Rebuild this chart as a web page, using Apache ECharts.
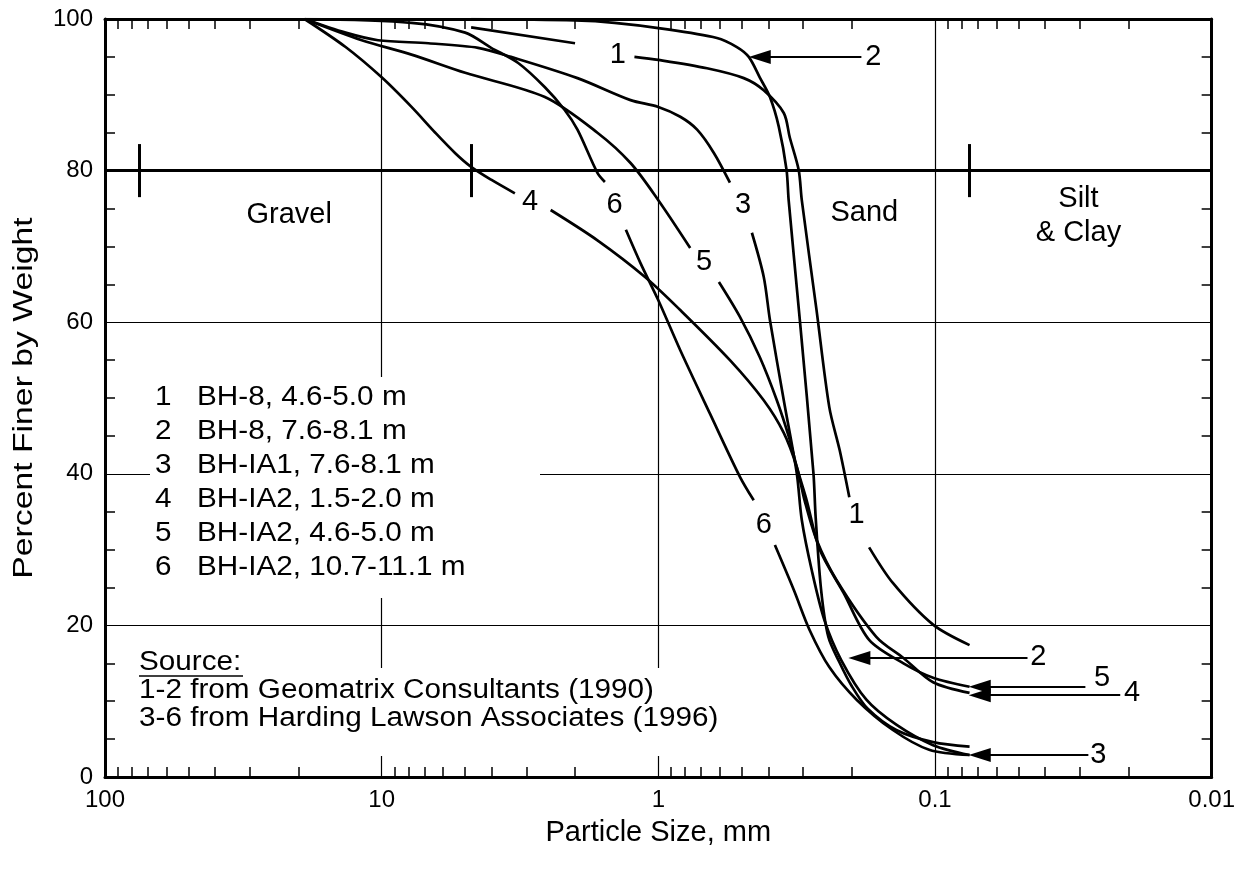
<!DOCTYPE html>
<html>
<head>
<meta charset="utf-8">
<title>Particle size distribution</title>
<script src="https://cdn.jsdelivr.net/npm/echarts@6/dist/echarts.min.js"></script>
<style>
html,body{margin:0;padding:0;background:#fff;}
#main{width:1238px;height:872px;}
</style>
</head>
<body>
<div id="main"></div>
<script>
// particle size (mm) vs percent finer. null = gap left for a curve label
var curve1 = [[4.75,98.9],[2.0,96.8],null,[1.22,95.0],[1.0,94.6],[0.667,93.5],[0.491,92.2],[0.416,90.6],[0.352,87.6],[0.335,84.4],[0.311,80.1],[0.303,76.1],[0.268,61.6],[0.241,48.8],[0.221,43.1],[0.204,36.9],null,[0.173,30.3],[0.142,25.6],[0.1016,20.1],[0.075,17.4]];
var curve2 = [[4.75,100],[2.0,99.8],[1.44,99.5],[1.0,98.8],[0.614,97.5],[0.52,96.3],[0.471,95.0],[0.43,92.3],[0.395,89.7],[0.367,85.8],[0.344,80.1],[0.338,76.1],[0.308,60.3],[0.275,40.1],[0.27,34.3],[0.258,24.7],[0.243,18.5],[0.222,15.2],[0.2,12.0],[0.175,9.0],[0.138,6.2],[0.1016,4.6],[0.075,4.0]];
var curve3 = [[19,100],[13.5,98.2],[10.3,97.2],[6.77,96.8],[4.48,96.2],[3.41,95.0],[1.96,92.2],[1.26,89.3],[1.0,88.4],[0.833,87.1],[0.724,85.4],[0.629,82.3],[0.551,78.4],null,[0.459,71.8],[0.416,66.0],[0.395,60.3],[0.352,49.7],[0.316,40.1],[0.303,33.9],[0.279,27.3],[0.251,20.7],[0.218,15.4],[0.177,10.2],[0.138,6.9],[0.1016,4.2],[0.075,2.9]];
var curve4 = [[19,100],[13.5,96.3],[10,92.3],[7.8,88.4],[6.4,85.0],[5.42,82.3],[4.75,80.5],[4.02,78.8],[3.30,77.0],null,[2.45,74.8],[1.66,70.8],[1.12,66.0],[0.833,61.6],[0.551,55.0],[0.416,49.7],[0.352,45.4],[0.316,40.9],[0.296,36.5],[0.268,31.3],[0.227,26.0],[0.163,18.5],[0.130,15.7],[0.1016,12.5],[0.075,11.1]];
var curve5 = [[19,100],[11.8,97.2],[7.8,95.3],[4.99,92.9],[2.57,89.7],[1.66,85.0],[1.26,81.0],[1.0,76.1],[0.767,69.8],null,[0.604,65.3],[0.507,60.7],[0.43,55.4],[0.373,49.7],[0.335,44.5],[0.316,40.9],[0.291,36.5],[0.261,30.0],[0.214,24.3],[0.173,18.1],[0.130,15.0],[0.1016,13.1],[0.075,11.9]];
var curve6 = [[19,100],[7.8,99.5],[4.99,98.2],[4.02,96.2],[3.21,94.2],[2.57,91.0],[2.18,88.0],[1.96,85.4],[1.66,79.7],[1.56,78.5],null,[1.31,72.2],[1.16,67.8],[1.0,62.9],[0.833,56.3],[0.65,47.9],[0.507,39.6],[0.452,36.5],null,[0.379,30.6],[0.324,24.7],[0.284,19.4],[0.241,14.5],[0.192,10.2],[0.142,6.2],[0.105,3.6],[0.075,2.9]];
var curves = [curve1, curve2, curve3, curve4, curve5, curve6];

// number labels sitting in the curve gaps and at the arrow tails: [size, percent, text]
var curveLabels = [[1.40,95.3,'1'],[2.91,75.9,'4'],[1.44,75.5,'6'],[0.494,75.5,'3'],[0.684,67.9,'5'],[0.416,33.2,'6'],[0.192,34.6,'1'],
  [0.167,95.0,'2'],[0.0423,15.8,'2'],[0.0249,13.1,'5'],[0.0194,11.1,'4'],[0.0257,2.9,'3']];
// arrows: [head size, tail size, percent]
var arrows = [[0.43,0.1845,95.0],[0.1876,0.0463,15.7],[0.0689,0.0286,11.9],[0.0689,0.0214,10.8],[0.0689,0.0279,2.9]];

// soil classes: boundary sizes on the 80 % line and class names
var classLine = 80;
var classBounds = [75, 4.75, 0.075];
var classNames = [[21.6,74.1,'Gravel'],[0.18,74.4,'Sand'],[0.0303,74.0,'Silt\n& Clay']];

var yMinor = [5,10,15,25,30,35,45,50,55,65,70,75,85,90,95];
var xMinor = [];
[10, 1, 0.1, 0.01].forEach(function (d) {
    for (var k = 2; k <= 9; k++) xMinor.push(+(k * d).toPrecision(2));
});

var legendRows = [['1','BH-8, 4.6-5.0 m'],['2','BH-8, 7.6-8.1 m'],['3','BH-IA1, 7.6-8.1 m'],['4','BH-IA2, 1.5-2.0 m'],['5','BH-IA2, 4.6-5.0 m'],['6','BH-IA2, 10.7-11.1 m']];
var sourceLines = ['1-2 from Geomatrix Consultants (1990)','3-6 from Harding Lawson Associates (1996)'];

var FONT = '"Liberation Sans", Arial, Helvetica, sans-serif';
var TXT = '27px ' + FONT;

function toData(arr) {
    return arr.map(function (p) { return p ? p : ['-', '-']; });
}

var series = curves.map(function (c, i) {
    return {
        name: 'curve' + (i + 1),
        type: 'line',
        data: toData(c),
        smooth: 0.3,
        showSymbol: false,
        connectNulls: false,
        lineStyle: { color: '#000', width: 2.7 },
        z: 3
    };
});

// classification line and boundary ticks
var classMarks = [{ yAxis: classLine }];
classBounds.forEach(function (b) {
    classMarks.push([{ coord: [b, classLine - 3.5] }, { coord: [b, classLine + 3.5] }]);
});
series.push({
    type: 'line', data: [], silent: true,
    markLine: {
        silent: true, symbol: 'none', animation: false,
        label: { show: false },
        lineStyle: { color: '#000', width: 3, type: 'solid' },
        data: classMarks
    }
});

// arrows
series.push({
    type: 'line', data: [], silent: true,
    markLine: {
        silent: true, animation: false,
        symbol: ['none', 'triangle'], symbolSize: [14, 22],
        label: { show: false },
        itemStyle: { color: '#000' },
        lineStyle: { color: '#000', width: 1.8, type: 'solid' },
        data: arrows.map(function (a) {
            return [{ coord: [a[1], a[2]] }, { coord: [a[0], a[2]] }];
        })
    }
});

// text labels on the plot
series.push({
    type: 'scatter', silent: true, symbolSize: 1,
    itemStyle: { color: 'rgba(0,0,0,0)', opacity: 1 },
    data: curveLabels.concat(classNames),
    label: {
        show: true, position: 'inside', color: '#000',
        textBorderWidth: 0,
        fontFamily: FONT, fontSize: 29, lineHeight: 34,
        formatter: function (p) { return p.value[2]; }
    },
    z: 6
});

var graphics = [
    { type: 'rect', shape: { x: 150, y: 377, width: 390, height: 221 }, style: { fill: '#fff' }, z: 5, silent: true },
    { type: 'rect', shape: { x: 134, y: 668, width: 622, height: 88 }, style: { fill: '#fff' }, z: 5, silent: true }
];
function addText(str, x, y) {
    graphics.push({ type: 'text', x: x, y: y, scaleX: 1.1, z: 6, silent: true,
        style: { text: str, font: TXT, fill: '#000', verticalAlign: 'middle' } });
}
legendRows.forEach(function (r, i) {
    var y = 398 + i * 34;
    addText(r[0], 155, y);
    addText(r[1], 197, y);
});
addText('Source:', 139, 663);
graphics.push({ type: 'line', z: 6, silent: true, shape: { x1: 139, y1: 676, x2: 243, y2: 676 }, style: { stroke: '#000', lineWidth: 1.5 } });
sourceLines.forEach(function (t, i) {
    addText(t, 139, 691 + i * 28);
});
// y axis title, drawn long and narrow like the scanned original
graphics.push({ type: 'text', x: 25, y: 398, rotation: Math.PI / 2, scaleX: 1.25, z: 6, silent: true,
    style: { text: 'Percent Finer by Weight', font: '27px ' + FONT, fill: '#000', align: 'center', verticalAlign: 'middle' } });

var tickStyle = { color: '#000', width: 1.5 };
var chart = echarts.init(document.getElementById('main'), null, { renderer: 'canvas' });
chart.setOption({
    animation: false,
    backgroundColor: '#fff',
    grid: { left: 105, right: 21, top: 19, bottom: 95, containLabel: false },
    xAxis: [{
        type: 'log', logBase: 10, min: 0.01, max: 100, inverse: true,
        position: 'bottom',
        name: 'Particle Size, mm', nameLocation: 'middle', nameGap: 41,
        nameTextStyle: { fontFamily: FONT, fontSize: 29, color: '#000' },
        axisLine: { show: true, lineStyle: { color: '#000', width: 3 } },
        axisTick: { show: false },
        axisLabel: {
            color: '#000', fontFamily: FONT, fontSize: 24, margin: 11,
            formatter: function (v) { return String(parseFloat(v.toPrecision(3))); }
        },
        splitLine: { show: true, lineStyle: { color: '#000', width: 1.2 } }
    }, {
        type: 'log', logBase: 10, min: 0.01, max: 100, inverse: true,
        position: 'bottom',
        axisLine: { show: false },
        axisLabel: { show: false },
        splitLine: { show: false },
        axisTick: { show: true, inside: true, length: 10, customValues: xMinor, lineStyle: tickStyle }
    }, {
        type: 'log', logBase: 10, min: 0.01, max: 100, inverse: true,
        position: 'top',
        axisLine: { show: true, onZero: false, lineStyle: { color: '#000', width: 3 } },
        axisLabel: { show: false },
        splitLine: { show: false },
        axisTick: { show: true, inside: true, length: 10, customValues: xMinor, lineStyle: tickStyle }
    }],
    yAxis: [{
        type: 'value', min: 0, max: 100, interval: 20, position: 'left',
        axisLine: { show: true, lineStyle: { color: '#000', width: 3 } },
        axisTick: { show: false },
        axisLabel: { color: '#000', fontFamily: FONT, fontSize: 24, margin: 12 },
        splitLine: { show: true, lineStyle: { color: '#000', width: 1.2 } }
    }, {
        type: 'value', min: 0, max: 100, interval: 20, position: 'left',
        axisLine: { show: false },
        axisTick: { show: true, inside: true, length: 10, customValues: yMinor, lineStyle: tickStyle },
        axisLabel: { show: false },
        splitLine: { show: false }
    }, {
        type: 'value', min: 0, max: 100, interval: 20, position: 'right',
        axisLine: { show: true, onZero: false, lineStyle: { color: '#000', width: 3 } },
        axisTick: { show: true, inside: true, length: 10, customValues: yMinor, lineStyle: tickStyle },
        axisLabel: { show: false },
        splitLine: { show: false }
    }],
    series: series,
    graphic: graphics
});
</script>
</body>
</html>
